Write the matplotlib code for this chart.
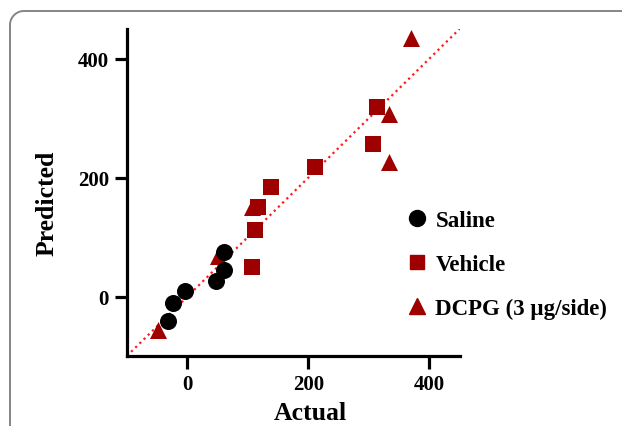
import numpy as np
import matplotlib.pyplot as plt
from matplotlib.lines import Line2D

# values
saline_x = [-32, -23, -4, 48, 60, 60]
saline_y = [-41, -11, 9, 26, 44, 75]

vehicle_x = [106, 112, 116, 139, 211, 306, 314]
vehicle_y = [50, 112, 150, 184, 217, 256, 318]

dcpg_x = [-48, 50, 106, 333, 333, 370]
dcpg_y = [-57, 68, 150, 307, 227, 434]

identity = [-100, 450]
ticks = [0, 200, 400]
labels = ['Saline', 'Vehicle', 'DCPG (3 \u00b5g/side)']

dark_red = '#9E0000'

plt.rcParams['font.family'] = ['Liberation Serif', 'DejaVu Serif']
plt.rcParams['font.weight'] = 'bold'

W, H = 622, 427
fig = plt.figure(figsize=(W / 100, H / 100), dpi=100)
ax = fig.add_axes([0.204, 0.164, 0.535, 0.766])

# rounded frame corner (top-left), running off the right and bottom edges
r = 14
t = np.linspace(np.pi, np.pi / 2, 30)
cx, cy = 10 + r, 12 + r
px = np.concatenate([[10], cx + r * np.cos(t), [W + 20]])
py = np.concatenate([[H + 20], cy - r * np.sin(t), [12]])
fig.add_artist(Line2D(px / W, 1 - py / H, transform=fig.transFigure,
                      color='#858585', linewidth=1.4))

ax.plot(identity, identity, color='#ff1a1a', linestyle=':', linewidth=1.6, zorder=1)
ax.scatter(dcpg_x, dcpg_y, marker='^', s=150, color=dark_red, linewidths=0, zorder=2)
ax.scatter(vehicle_x, vehicle_y, marker='s', s=140, color=dark_red, linewidths=0, zorder=3)
ax.scatter(saline_x, saline_y, marker='o', s=150, color='black', linewidths=0, zorder=4)

ax.set_xlim(-100, 450)
ax.set_ylim(-100, 450)
ax.set_xticks(ticks)
ax.set_yticks(ticks)
ax.spines['top'].set_visible(False)
ax.spines['right'].set_visible(False)
for s in ['left', 'bottom']:
    ax.spines[s].set_linewidth(2.3)
ax.tick_params(width=2.3, length=9, labelsize=15, pad=4)
for lab in ax.get_xticklabels() + ax.get_yticklabels():
    lab.set_fontweight('bold')

# axis titles placed where the reference has them
fig.text(310 / W, 1 - 420 / H, 'Actual', fontsize=18.5, fontweight='bold',
         ha='center', va='baseline')
fig.text(47 / W, 1 - 203 / H, 'Predicted', fontsize=18.5, fontweight='bold',
         ha='center', va='center', rotation=90)

handles = [
    Line2D([], [], marker='o', linestyle='none', color='black', markersize=11.5),
    Line2D([], [], marker='s', linestyle='none', color=dark_red, markersize=10.5),
    Line2D([], [], marker='^', linestyle='none', color=dark_red, markersize=11),
]
fig.legend(handles, labels, loc='center left', bbox_to_anchor=(0.619, 0.378),
           frameon=False, prop={'size': 16.5, 'weight': 'bold'},
           handlelength=1.0, handletextpad=0.3, labelspacing=1.0)

fig.savefig('out.png', dpi=100)
